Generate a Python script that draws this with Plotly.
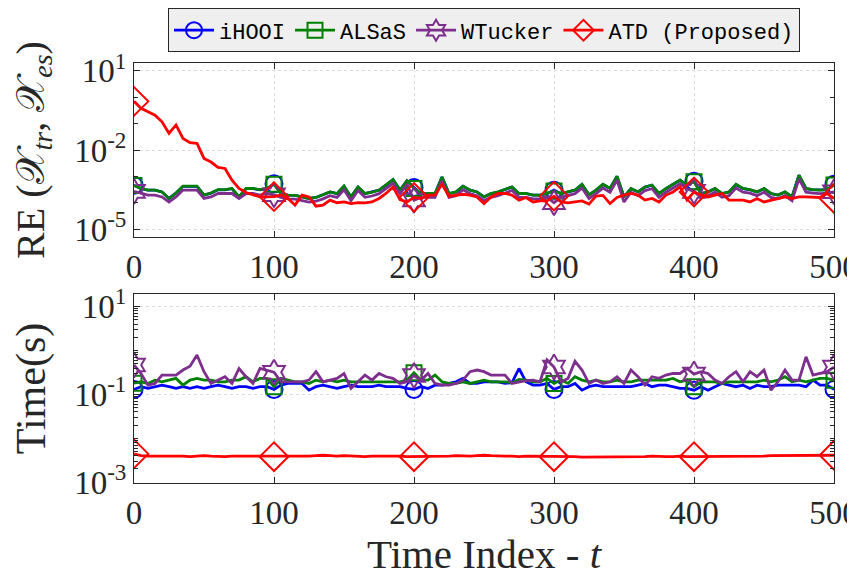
import plotly.graph_objects as go

t = list(range(0, 501, 5))
marker_idx = list(range(0, 101, 20))

re_ihooi = [4.6e-4, 3.4e-4, 3.0e-4, 3.0e-4, 2.55e-4, 1.45e-4, 2.3e-4, 4.2e-4, 4.2e-4, 4.2e-4,
            1.95e-4, 2.3e-4, 3.1e-4, 3.1e-4, 3.4e-4, 1.66e-4, 3.4e-4, 3.4e-4, 3.1e-4, 3.4e-4,
            5.2e-4, 2.2e-4, 1.95e-4, 1.9e-4, 1.66e-4, 1.45e-4, 1.58e-4, 1.95e-4, 2.55e-4, 2.2e-4,
            4.2e-4, 1.66e-4, 3.9e-4, 2.2e-4, 2.5e-4, 3.0e-4, 4.6e-4, 7.5e-4, 3.0e-4, 6.7e-4,
            3.8e-4, 2.2e-4, 2.2e-4, 2.2e-4, 9.4e-4, 2.2e-4, 2.55e-4, 4.2e-4, 3.0e-4, 2.55e-4,
            1.66e-4, 2.2e-4, 2.55e-4, 3.1e-4, 3.9e-4, 2.2e-4, 2.2e-4, 1.95e-4, 1.95e-4, 2.2e-4,
            3.0e-4, 2.2e-4, 2.55e-4, 3.0e-4, 4.9e-4, 2.0e-4, 3.0e-4, 4.9e-4, 3.5e-4, 1.0e-3,
            1.66e-4, 3.4e-4, 2.55e-4, 3.9e-4, 4.6e-4, 2.2e-4, 3.4e-4, 4.9e-4, 7.1e-4, 4.6e-4,
            6.6e-4, 2.2e-4, 2.55e-4, 3.4e-4, 2.2e-4, 2.55e-4, 4.9e-4, 3.4e-4, 3.1e-4, 2.55e-4,
            3.4e-4, 2.2e-4, 1.95e-4, 2.55e-4, 1.66e-4, 1.1e-3, 3.4e-4, 3.1e-4, 3.0e-4, 3.1e-4,
            5.0e-4]

re_alsas = [4.5e-4, 3.47e-4, 3.02e-4, 3.02e-4, 2.57e-4, 1.45e-4, 2.34e-4, 4.27e-4, 4.27e-4, 4.27e-4,
            1.95e-4, 2.34e-4, 3.16e-4, 3.16e-4, 3.47e-4, 1.66e-4, 3.47e-4, 3.47e-4, 3.16e-4, 3.47e-4,
            5.0e-4, 2.24e-4, 1.95e-4, 1.9e-4, 1.66e-4, 1.45e-4, 1.58e-4, 1.95e-4, 2.57e-4, 2.24e-4,
            4.27e-4, 1.66e-4, 3.98e-4, 2.24e-4, 2.5e-4, 3.02e-4, 4.7e-4, 7.6e-4, 3.02e-4, 6.8e-4,
            3.5e-4, 2.24e-4, 2.24e-4, 2.24e-4, 9.5e-4, 2.24e-4, 2.57e-4, 4.27e-4, 3.02e-4, 2.57e-4,
            1.66e-4, 2.24e-4, 2.57e-4, 3.16e-4, 3.98e-4, 2.24e-4, 2.24e-4, 1.95e-4, 1.95e-4, 2.24e-4,
            2.8e-4, 2.24e-4, 2.57e-4, 3.02e-4, 5.0e-4, 2.0e-4, 3.02e-4, 5.0e-4, 3.5e-4, 1.02e-3,
            1.66e-4, 3.47e-4, 2.57e-4, 3.98e-4, 4.7e-4, 2.24e-4, 3.47e-4, 5.0e-4, 7.2e-4, 4.7e-4,
            6.2e-4, 2.24e-4, 2.57e-4, 3.47e-4, 2.24e-4, 2.57e-4, 5.0e-4, 3.47e-4, 3.16e-4, 2.57e-4,
            3.47e-4, 2.24e-4, 1.95e-4, 2.57e-4, 1.66e-4, 1.12e-3, 3.47e-4, 3.16e-4, 3.02e-4, 3.16e-4,
            4.7e-4]

re_wtucker = [2.7e-4, 2.24e-4, 1.95e-4, 1.95e-4, 1.66e-4, 1.07e-4, 1.66e-4, 3.02e-4, 3.02e-4, 3.02e-4,
              1.45e-4, 1.66e-4, 2.24e-4, 2.24e-4, 2.24e-4, 1.45e-4, 2.24e-4, 2.24e-4, 1.95e-4, 2.24e-4,
              2.0e-4, 1.6e-4, 1.4e-4, 1.37e-4, 1.2e-4, 1.05e-4, 1.14e-4, 1.4e-4, 1.85e-4, 1.6e-4,
              3.1e-4, 1.2e-4, 2.9e-4, 1.6e-4, 1.8e-4, 2.2e-4, 3.4e-4, 5.5e-4, 2.2e-4, 4.9e-4,
              1.26e-4, 1.6e-4, 1.6e-4, 1.6e-4, 6.8e-4, 1.6e-4, 1.85e-4, 3.1e-4, 2.2e-4, 1.85e-4,
              1.2e-4, 1.6e-4, 1.85e-4, 2.3e-4, 2.9e-4, 1.6e-4, 1.6e-4, 1.4e-4, 1.4e-4, 1.6e-4,
              1.0e-4, 1.6e-4, 1.85e-4, 2.2e-4, 3.6e-4, 1.45e-4, 2.2e-4, 3.6e-4, 2.5e-4, 7.3e-4,
              1.07e-4, 2.5e-4, 1.85e-4, 2.9e-4, 3.4e-4, 1.6e-4, 2.5e-4, 3.6e-4, 5.2e-4, 3.4e-4,
              2.7e-4, 1.6e-4, 1.85e-4, 2.5e-4, 1.6e-4, 1.85e-4, 3.6e-4, 2.5e-4, 2.3e-4, 1.85e-4,
              2.5e-4, 1.6e-4, 1.4e-4, 1.85e-4, 1.2e-4, 8.0e-4, 2.5e-4, 2.3e-4, 2.2e-4, 2.3e-4,
              2.6e-4]

re_atd = [0.70, 0.38, 0.28, 0.21, 0.117, 0.043, 0.089, 0.0275, 0.019, 0.0178,
          0.0048, 0.0035, 0.0022, 0.0020, 7.2e-4, 3.5e-4, 2.45e-4, 1.95e-4, 1.66e-4, 1.66e-4,
          1.7e-4, 1.95e-4, 1.45e-4, 8.1e-5, 1.95e-4, 1.66e-4, 7.4e-5, 8.1e-5, 1.26e-4, 1.0e-4,
          1.07e-4, 9.3e-5, 1.0e-4, 9.8e-5, 1.07e-4, 1.45e-4, 2.24e-4, 3.98e-4, 1.32e-4, 1.07e-4,
          1.6e-4, 1.45e-4, 1.95e-4, 1.95e-4, 5.0e-4, 1.78e-4, 1.95e-4, 2.1e-4, 1.95e-4, 1.66e-4,
          9.3e-5, 1.66e-4, 2.24e-4, 2.24e-4, 1.95e-4, 1.26e-4, 1.58e-4, 1.07e-4, 1.17e-4, 1.17e-4,
          1.78e-4, 1.07e-4, 9.8e-5, 1.07e-4, 1.17e-4, 8.9e-5, 1.78e-4, 1.9e-4, 9.3e-5, 1.58e-4,
          1.95e-4, 2.24e-4, 1.95e-4, 1.26e-4, 1.45e-4, 1.07e-4, 1.95e-4, 2.57e-4, 3.98e-4, 1.26e-4,
          2.57e-4, 1.95e-4, 1.66e-4, 1.95e-4, 2.24e-4, 1.26e-4, 1.26e-4, 1.26e-4, 1.07e-4, 1.45e-4,
          1.07e-4, 1.26e-4, 1.45e-4, 1.66e-4, 1.45e-4, 1.66e-4, 1.66e-4, 1.66e-4, 1.58e-4, 2.24e-4,
          1.45e-4]

time_ihooi = [0.13, 0.15, 0.137, 0.15, 0.163, 0.15, 0.137, 0.15, 0.137, 0.15,
              0.137, 0.15, 0.163, 0.15, 0.137, 0.15, 0.15, 0.137, 0.15, 0.15,
              0.13, 0.163, 0.178, 0.178, 0.178, 0.125, 0.15, 0.163, 0.15, 0.137,
              0.15, 0.163, 0.15, 0.15, 0.15, 0.163, 0.15, 0.15, 0.15, 0.137,
              0.13, 0.15, 0.137, 0.163, 0.163, 0.178, 0.194, 0.232, 0.178, 0.178,
              0.194, 0.194, 0.194, 0.178, 0.185, 0.39, 0.194, 0.163, 0.163, 0.178,
              0.13, 0.15, 0.15, 0.178, 0.125, 0.15, 0.163, 0.15, 0.15, 0.15,
              0.15, 0.15, 0.163, 0.178, 0.15, 0.163, 0.163, 0.15, 0.137, 0.137,
              0.125, 0.15, 0.125, 0.15, 0.178, 0.163, 0.15, 0.163, 0.137, 0.163,
              0.15, 0.15, 0.163, 0.163, 0.163, 0.163, 0.15, 0.212, 0.163, 0.163,
              0.13]

time_alsas = [0.18, 0.194, 0.178, 0.212, 0.194, 0.212, 0.232, 0.163, 0.212, 0.232,
              0.212, 0.212, 0.194, 0.194, 0.212, 0.212, 0.253, 0.194, 0.232, 0.232,
              0.15, 0.232, 0.212, 0.194, 0.194, 0.178, 0.212, 0.194, 0.212, 0.194,
              0.212, 0.194, 0.194, 0.194, 0.194, 0.194, 0.194, 0.194, 0.194, 0.212,
              0.31, 0.212, 0.212, 0.276, 0.194, 0.178, 0.178, 0.194, 0.178, 0.194,
              0.212, 0.194, 0.194, 0.194, 0.185, 0.22, 0.212, 0.194, 0.194, 0.232,
              0.178, 0.212, 0.178, 0.253, 0.212, 0.194, 0.212, 0.194, 0.194, 0.212,
              0.194, 0.194, 0.212, 0.212, 0.212, 0.22, 0.212, 0.232, 0.194, 0.212,
              0.15, 0.194, 0.194, 0.194, 0.178, 0.194, 0.194, 0.194, 0.194, 0.194,
              0.212, 0.194, 0.212, 0.253, 0.194, 0.212, 0.194, 0.212, 0.232, 0.232,
              0.21]

time_wtucker = [0.47, 0.30, 0.163, 0.178, 0.276, 0.276, 0.276, 0.36, 0.44, 0.79,
                0.33, 0.178, 0.212, 0.253, 0.178, 0.39, 0.253, 0.178, 0.39, 0.36,
                0.32, 0.194, 0.194, 0.194, 0.194, 0.212, 0.33, 0.194, 0.212, 0.232,
                0.30, 0.137, 0.194, 0.276, 0.212, 0.30, 0.253, 0.232, 0.178, 0.194,
                0.27, 0.212, 0.30, 0.178, 0.163, 0.163, 0.178, 0.212, 0.33, 0.36,
                0.33, 0.276, 0.276, 0.276, 0.178, 0.194, 0.205, 0.212, 0.194, 0.61,
                0.42, 0.194, 0.232, 0.57, 0.36, 0.178, 0.212, 0.178, 0.194, 0.253,
                0.178, 0.36, 0.253, 0.163, 0.253, 0.232, 0.276, 0.30, 0.30, 0.39,
                0.29, 0.33, 0.30, 0.212, 0.178, 0.253, 0.33, 0.194, 0.33, 0.253,
                0.36, 0.125, 0.194, 0.36, 0.212, 0.212, 0.72, 0.276, 0.30, 0.33,
                0.42]

time_atd = [0.0044, 0.0040, 0.0039, 0.0039, 0.0040, 0.0040, 0.0039, 0.0039, 0.0038, 0.0039,
            0.0040, 0.0039, 0.0038, 0.0038, 0.0039, 0.0039, 0.0038, 0.0038, 0.0039, 0.0038,
            0.0038, 0.0038, 0.0039, 0.0039, 0.0038, 0.0039, 0.0040, 0.0041, 0.0040, 0.0039,
            0.0040, 0.0039, 0.0039, 0.0038, 0.0039, 0.0039, 0.0040, 0.0039, 0.0039, 0.0038,
            0.0038, 0.0039, 0.0039, 0.0038, 0.0039, 0.0039, 0.0040, 0.0039, 0.0039, 0.0040,
            0.0041, 0.0040, 0.0039, 0.0039, 0.0039, 0.0038, 0.0039, 0.0039, 0.0038, 0.0039,
            0.0038, 0.0038, 0.0039, 0.0038, 0.0037, 0.0037, 0.0038, 0.0038, 0.0038, 0.0038,
            0.0038, 0.0038, 0.0038, 0.0038, 0.0039, 0.0038, 0.0038, 0.0038, 0.0039, 0.0038,
            0.0038, 0.0038, 0.0039, 0.0039, 0.0039, 0.0038, 0.0039, 0.0039, 0.0039, 0.0039,
            0.0039, 0.0040, 0.0040, 0.0040, 0.0041, 0.0041, 0.0041, 0.0040, 0.0040, 0.0041,
            0.0041]

names = ["iHOOI", "ALSaS", "WTucker", "ATD (Proposed)"]
colors = ["#0000FF", "#008000", "#7E2F8E", "#FF0000"]
symbols = ["circle-open", "square-open", "hexagram-open", "diamond-open"]
msizes = [17, 15, 19, 22]
re_series = [re_ihooi, re_alsas, re_wtucker, re_atd]
time_series = [time_ihooi, time_alsas, time_wtucker, time_atd]

fig = go.Figure()
for i in range(4):
    for ys, xa, ya in [(re_series[i], "x", "y"), (time_series[i], "x2", "y2")]:
        fig.add_trace(go.Scatter(x=t, y=ys, mode="lines", xaxis=xa, yaxis=ya,
                                 line=dict(color=colors[i], width=2.8), showlegend=False,
                                 hoverinfo="skip"))
        fig.add_trace(go.Scatter(x=[t[k] for k in marker_idx], y=[ys[k] for k in marker_idx],
                                 mode="markers", xaxis=xa, yaxis=ya, showlegend=False,
                                 marker=dict(symbol=symbols[i], size=msizes[i], color=colors[i],
                                             line=dict(width=2, color=colors[i]))))
for i in range(4):
    fig.add_trace(go.Scatter(x=[None], y=[None], mode="lines+markers", name=names[i],
                             xaxis="x", yaxis="y",
                             line=dict(color=colors[i], width=2.8),
                             marker=dict(symbol=symbols[i], size=msizes[i], color=colors[i],
                                         line=dict(width=2, color=colors[i]))))

serif = "Liberation Serif, Times New Roman, serif"
ink = "#262626"
tickfont = dict(family=serif, size=33, color=ink)

xcommon = dict(range=[0, 500], tickvals=[0, 100, 200, 300, 400, 500],
               ticks="inside", ticklen=6, tickcolor=ink, showline=True, linecolor=ink,
               linewidth=1, mirror="ticks", showgrid=True, gridcolor="#dcdcdc", griddash="dot",
               zeroline=False, tickfont=tickfont, ticklabeloverflow="allow", automargin=False)

ycommon = dict(type="log", ticks="inside", ticklen=6, tickcolor=ink, showline=True, linecolor=ink,
               linewidth=1, mirror="ticks", showgrid=True, gridcolor="#dcdcdc", griddash="dot",
               tickfont=tickfont, automargin=False)

fig.update_layout(
    width=855, height=572,
    margin=dict(l=126, r=29, t=55, b=97, autoexpand=False),
    paper_bgcolor="white", plot_bgcolor="white",
    showlegend=True,
    legend=dict(orientation="h", x=0.5, xanchor="center", y=1.13, yanchor="top",
                bgcolor="#EFEFEF", bordercolor=ink, borderwidth=1,
                font=dict(family="Liberation Mono, Courier New, monospace", size=22, color="#000"),
                itemwidth=40, tracegroupgap=0),
    xaxis=dict(domain=[0, 1], anchor="y", **xcommon),
    xaxis2=dict(domain=[0, 1], anchor="y2",
                title=dict(text="Time Index - <i>t</i>", font=dict(family=serif, size=41, color=ink),
                           standoff=4),
                **xcommon),
    yaxis=dict(domain=[0.5857, 1], anchor="x", range=[-5.3, 1.3],
               tickvals=[1e-5, 1e-2, 10], ticktext=["10<sup>-5</sup>", "10<sup>-2</sup>", "10<sup>1</sup>"],
               minor=dict(tickvals=[1e-4, 1e-3, 1e-1, 1], ticks="inside", ticklen=4,
                          tickcolor=ink, showgrid=False),
               title=dict(text="RE (𝒳<sub><i>tr</i></sub>, 𝒳<sub><i>es</i></sub>)",
                          font=dict(family=serif, size=40, color=ink), standoff=22),
               **ycommon),
    yaxis2=dict(domain=[0, 0.45], anchor="x2", range=[-3.02, 1.29],
                tickvals=[1e-3, 1e-1, 10], ticktext=["10<sup>-3</sup>", "10<sup>-1</sup>", "10<sup>1</sup>"],
                minor=dict(ticks="inside", ticklen=4, tickcolor=ink, showgrid=False, dtick="D1"),
                title=dict(text="Time(s)", font=dict(family=serif, size=42, color=ink), standoff=22),
                **ycommon),
)

fig.write_html("out.html")
